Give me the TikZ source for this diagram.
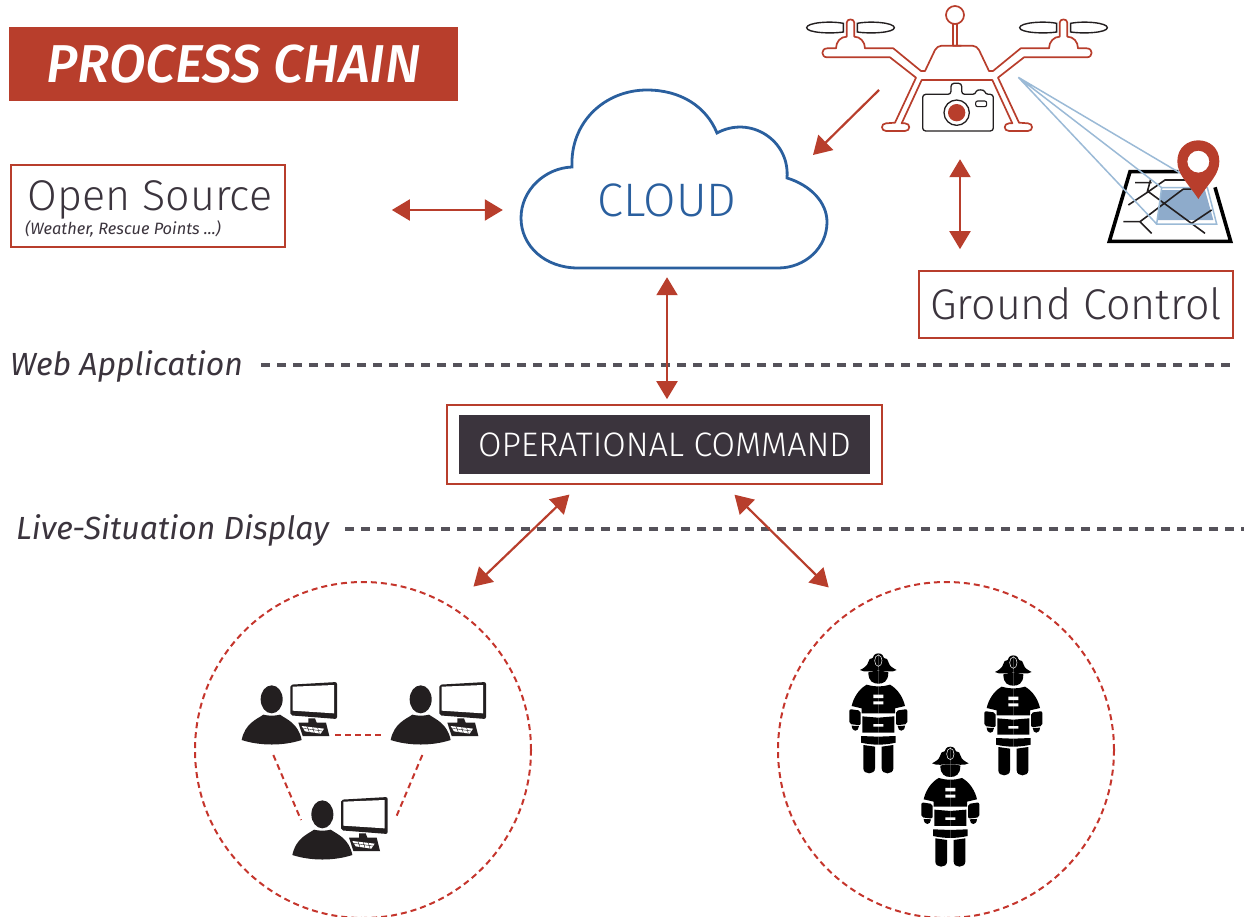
\documentclass[tikz,border=0pt]{standalone}
\usepackage{fontspec}
\setmainfont{Fira Sans}
\newfontfamily\lightfont{Fira Sans Light}[ItalicFont={Fira Sans Light Italic}]
\newfontfamily\mediumfont{Fira Sans Medium}[ItalicFont={Fira Sans Medium Italic}]
\usetikzlibrary{arrows.meta,positioning}
\definecolor{chainred}{HTML}{B83E2C}
\definecolor{ringred}{HTML}{C5352C}
\definecolor{cloudblue}{HTML}{2A5F9E}
\definecolor{beamblue}{HTML}{9BBAD6}
\definecolor{patchblue}{HTML}{8EABCB}
\definecolor{inkdark}{HTML}{3B343D}
\definecolor{dashgrey}{HTML}{55525A}
\definecolor{iconblack}{HTML}{231F20}
\tikzset{
  redbox/.style={draw=chainred, line width=1.7pt, fill=white, inner sep=0pt},
  biarrow/.style={chainred, line width=2.2pt, {Triangle[length=18pt,width=21pt]}-{Triangle[length=18pt,width=21pt]}},
  onearrow/.style={chainred, line width=2.2pt, -{Triangle[length=18pt,width=21pt]}},
  layerline/.style={dashgrey, line width=3.2pt, dash pattern=on 9pt off 7pt},
  layerlabel/.style={inkdark, font=\fontsize{32}{32}\selectfont\itshape, inner sep=0pt, anchor=west},
  ring/.style={circle, draw=ringred, line width=2pt, dash pattern=on 6pt off 4pt, minimum size=336pt, inner sep=0pt},
  peerlink/.style={ringred, line width=2pt, dash pattern=on 6pt off 4pt},
  droneline/.style={chainred, line width=1.7pt, line join=round},
  beam/.style={beamblue, line width=1.5pt},
  droneside/.pic={
    \draw[droneline] (484,137) -- (425,137) .. controls (415,137) and (410,143) .. (405,150) -- (375,213) -- (363,213) -- (280,145) -- (195,145) .. controls (195,125) and (180,110) .. (163,110) -- (163,68) .. controls (163,55) and (140,55) .. (140,68) -- (140,110) .. controls (122,110) and (108,125) .. (108,145) -- (82,145) .. controls (62,145) and (62,172) .. (82,172) -- (270,172) -- (348,233) -- (285,368) -- (258,370) .. controls (242,370) and (242,393) .. (258,393) -- (315,393) .. controls (332,393) and (332,370) .. (315,370) -- (305,370) -- (365,240) -- (471,240);
    \draw[iconblack, line width=1.4pt] (130,70) .. controls (90,62) and (20,68) .. (20,83) .. controls (20,98) and (90,102) .. (130,96) -- cycle;
    \draw[iconblack, line width=1.4pt] (172,70) .. controls (212,62) and (283,68) .. (283,83) .. controls (283,98) and (212,102) .. (172,96) -- cycle;
  },
  worker/.pic={
    \fill[iconblack] (155,88) ellipse [x radius=33, y radius=42];
    \fill[iconblack] (65,210) .. controls (75,160) and (110,148) .. (130,134) .. controls (145,138) and (165,138) .. (180,134) .. controls (200,148) and (235,160) .. (245,210) .. controls (190,228) and (120,228) .. (65,210) -- cycle;
    \fill[iconblack] (265,145) -- (285,145) -- (290,158) -- (318,158) -- (328,198) -- (248,198) -- (235,158) -- (265,158) -- cycle;
    \fill[white] (245,168) -- (312,176) -- (302,191) -- (255,184) -- cycle;
    \draw[iconblack, line width=.4pt] (250,175) -- (307,183) (262,170) -- (268,187) (278,172) -- (283,189) (293,174) -- (298,190);
    \fill[iconblack, rounded corners=2pt] (211,44) -- (351,36) -- (351,147) -- (211,136) -- cycle;
    \fill[white] (218,50) -- (342,45) -- (342,130) -- (218,122) -- cycle;
    \coordinate (-east) at (345,195);
    \coordinate (-west) at (45,195);
    \coordinate (-south) at (160,255);
    \coordinate (-left) at (91,105);
    \coordinate (-right) at (378,92);
  },
  firehalf/.pic={
    \fill (145,40) .. controls (158,40) and (160,50) .. (162,54) .. controls (170,52) and (174,60) .. (176,68) .. controls (178,78) and (190,85) .. (200,90) .. controls (185,99) and (165,92) .. (145,92) -- cycle;
    \fill (175,97) .. controls (175,125) and (160,131) .. (145,131) -- (145,93) .. controls (155,93) and (165,93) .. (175,97) -- cycle;
    \fill (145,139) .. controls (160,139) and (170,137) .. (180,134) .. controls (205,148) and (220,175) .. (225,198) -- (195,205) -- (195,220) -- (145,220) -- cycle;
    \fill (145,233) -- (193,229) -- (193,278) -- (145,278) -- cycle;
    \fill (145,290) -- (197,288) -- (197,308) .. controls (180,312) and (160,314) .. (145,314) -- cycle;
    \fill[rounded corners=2pt] (198,212) -- (232,207) -- (232,252) -- (198,256) -- cycle;
    \fill (203,258) -- (225,257) .. controls (224,277) and (204,277) .. (203,258) -- cycle;
    \fill (155,320) -- (190,315) -- (190,385) .. controls (190,405) and (155,405) .. (155,385) -- cycle;
  },
  firefighter/.pic={
    \pic[transform shape] {firehalf};
    \pic[transform shape, xscale=-1] at (290,0) {firehalf};
    \draw[white, line width=.5pt] (145,62) ellipse [x radius=11, y radius=17];
    \fill[white] (130,164) rectangle (160,174) (130,184) rectangle (160,193) (130,252) rectangle (160,260);
  },
}
\begin{document}
\begin{tikzpicture}[x=1pt, y=-1pt]
  \useasboundingbox (0,0) rectangle (1244,916);

  \node[fill=chainred, minimum width=449pt, minimum height=74pt, inner sep=0pt, text=white, font=\mediumfont\fontsize{53.3}{53.3}\selectfont\itshape] (title) at (233.5,64) {PROCESS CHAIN};

  \node[redbox, minimum width=274pt, minimum height=82pt] (opensource) at (148,206) {};
  \node[inkdark, font=\lightfont\fontsize{43}{43}\selectfont] (opensourcetext) at (150,200) {Open Source};
  \node[inkdark, font=\fontsize{16.4}{16.4}\selectfont\itshape, inner sep=0pt, anchor=west] (opensourcenote) at (25,229) {(Weather, Rescue Points ...)};

  % cloud outline
  \node[minimum width=306pt, minimum height=178pt, inner sep=0pt] (cloud) at (674,179) {};
  \draw[cloudblue, line width=2.8pt] (578,268) .. controls (545,268) and (521,246) .. (521,218) .. controls (521,190) and (545,168) .. (572,167) .. controls (570,122) and (605,90) .. (647,90) .. controls (680,90) and (706,106) .. (717,133) .. controls (750,115) and (790,140) .. (787,178) .. controls (810,185) and (827,202) .. (827,222) .. controls (827,248) and (805,268) .. (778,268) -- cycle;
  \node[cloudblue, font=\lightfont\fontsize{47}{47}\selectfont] (cloudtext) at (667,200) {CLOUD};

  % drone, camera, map
  \node[minimum width=305pt, minimum height=125pt, inner sep=0pt] (drone) at (957,68.5) {};
  \begin{scope}[shift={(800,0)}, scale=1/3]
    \pic[transform shape] {droneside};
    \pic[transform shape, xscale=-1] at (942,0) {droneside};
    \draw[droneline] (465,45) circle [radius=27];
    \draw[droneline] (458,72) -- (458,137) (472,72) -- (472,137);
    \draw[iconblack, line width=1.3pt, rounded corners=3pt] (368,283) -- (453,283) -- (453,250) -- (485,250) -- (485,283) -- (527,283) .. controls (530,268) and (552,268) .. (556,283) -- (580,283) -- (580,393) -- (368,393) -- cycle;
    \draw[iconblack, line width=1.3pt] (470,338) circle [radius=38];
    \fill[chainred] (470,338) circle [radius=26];
    \draw[iconblack, line width=1.1pt, rounded corners=2pt] (527,303) rectangle (560,320);
    \fill[patchblue] (1085,570) -- (1215,570) -- (1240,660) -- (1072,660) -- cycle;
    \draw[iconblack, line width=1.6pt] (1005,548) -- (1055,548) (1052,538) -- (1042,575) (985,615) -- (1045,575) -- (1215,700) (970,665) -- (1020,665) -- (1055,700) (1020,665) -- (1150,567) -- (1175,567) (1045,575) -- (1095,540) -- (1160,540) (1175,670) -- (1235,630);
    \draw[black, line width=3.6pt, miter limit=4] (1135,515) -- (990,515) -- (928,724) -- (1292,724) -- (1245,562);
    \draw[beam] (1085,563) -- (1222,563) -- (1250,672) -- (1070,672) -- cycle;
    \draw[beam] (655,232) -- (1145,522) (655,232) -- (1085,563) (655,232) -- (1070,672);
    \fill[chainred, even odd rule] (1195,597) .. controls (1165,550) and (1132,525) .. (1132,484) .. controls (1132,400) and (1258,400) .. (1258,484) .. controls (1258,525) and (1225,550) .. (1195,597) -- cycle (1195,485) circle [radius=33];
  \end{scope}

  \node[redbox, minimum width=314pt, minimum height=67pt] (groundcontrol) at (1076,304.5) {};
  \node[inkdark, font=\lightfont\fontsize{43}{43}\selectfont] (groundcontroltext) at (1076,304) {Ground Control};

  \node[layerlabel] (weblabel) at (10,366) {Web Application};
  \coordinate (webend) at (1234,365);
  \draw[layerline] ([xshift=18pt,yshift=1pt]weblabel.east) -- (webend);
  \node[layerlabel] (livelabel) at (16,530) {Live-Situation Display};
  \coordinate (liveend) at (1244,529);
  \draw[layerline] ([xshift=16pt,yshift=1pt]livelabel.east) -- (liveend);

  \node[redbox, minimum width=435pt, minimum height=79pt] (opcommand) at (664.5,444.5) {};
  \node[fill=inkdark, text=white, minimum width=411pt, minimum height=59pt, inner sep=0pt, font=\lightfont\fontsize{34}{34}\selectfont] (opcommandtext) at (664.5,444.5) {OPERATIONAL COMMAND};

  \node[ring] (controlring) at (363,750) {};
  \node[ring] (fieldring) at (946,750) {};

  \draw[biarrow, shorten <=106pt, shorten >=18pt] ([yshift=-4pt]opensource.east) -- ([yshift=-4pt]opensource.east -| cloud.west);
  \draw[biarrow, shorten <=9pt, shorten >=5pt] (cloudtext |- cloud.south) -- (cloudtext |- opcommand.north);
  \draw[biarrow, shorten <=28pt, shorten >=21pt] ([xshift=3pt]drone.south) -- ([xshift=3pt]drone.south |- groundcontrol.north);
  \coordinate (droneout) at (879,90);
  \coordinate (cloudin) at (813,155);
  \draw[onearrow] (droneout) -- (cloudin);
  \draw[biarrow, shorten <=14pt, shorten >=29pt] ([xshift=-85pt]opcommand.south) -- (controlring.58);
  \draw[biarrow, shorten <=14pt, shorten >=32pt] ([xshift=60pt]opcommand.south) -- (fieldring.124);

  % desks
  \pic[scale=1/3] (deska) at (220,670) {worker};
  \pic[scale=1/3] (deskb) at (369,670) {worker};
  \pic[scale=1/3] (deskc) at (270.7,785) {worker};
  \draw[peerlink] (deska-east) -- (deskb-west);
  \draw[peerlink] (deska-south) -- (deskc-left);
  \draw[peerlink] (deskb-south) -- (deskc-right);

  % crew
  \pic[scale=1/3] at (830,640) {firefighter};
  \pic[scale=1/3] at (965,642) {firefighter};
  \pic[scale=1/3] at (902,733.3) {firefighter};
\end{tikzpicture}
\end{document}
